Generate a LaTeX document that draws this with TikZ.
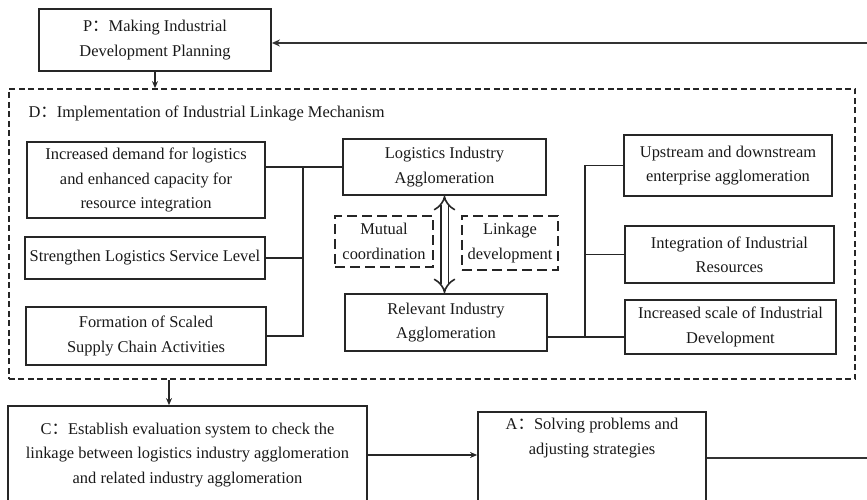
\documentclass[tikz,border=0pt]{standalone}
\usepackage{fontspec}
\setmainfont{Liberation Serif}
\newfontfamily\cjk{Noto Sans CJK SC}
\usetikzlibrary{arrows.meta,positioning}
\newcommand{\fcolon}{{\cjk ：}}

\begin{document}
\begin{tikzpicture}[x=1bp, y=-1bp,
font=\fontsize{16.5}{24.5}\selectfont,
mainbox/.style={draw=black!85, line width=1.8bp, align=center, inner sep=1bp, text=black!90},
dashbox/.style={draw=black!85, line width=1.8bp, dash pattern=on 10bp off 5bp, align=center, inner sep=1bp, text=black!90},
link/.style={draw=black!85, line width=1.4bp},
flow/.style={draw=black!85, line width=1.6bp, -{Stealth[length=7bp,width=6bp]}},
feedback/.style={draw=black!80, line width=2.4bp}
]

    \useasboundingbox (0,0) rectangle (867,500);
    \clip (0,0) rectangle (867,500);

    \node [mainbox, minimum width=232bp, minimum height=62bp] (P) at (155,40) {P\fcolon Making Industrial\\Development Planning};

    \node [draw=black!85, line width=1.7bp, dash pattern=on 6bp off 3.5bp, minimum width=846bp, minimum height=290bp] (frameD) at (432,234) {};
    \node [anchor=west, text=black!90] (titleD) at (25,113) {D\fcolon Implementation of Industrial Linkage Mechanism};

    \node [mainbox, minimum width=238bp, minimum height=76bp] (L1) at (146,180) {Increased demand for logistics\\and enhanced capacity for\\resource integration};
    \node [mainbox, minimum width=240bp, minimum height=42bp] (L2) at (145,258) {Strengthen Logistics Service Level};
    \node [mainbox, minimum width=240bp, minimum height=58bp] (L3) at (146,336) {Formation of Scaled\\Supply Chain Activities};

    \node [mainbox, minimum width=203bp, minimum height=56bp] (LIA) at (444.5,167) {Logistics Industry\\Agglomeration};
    \node [mainbox, minimum width=202bp, minimum height=57bp] (RIA) at (446,322.5) {Relevant Industry\\Agglomeration};

    \node [dashbox, minimum width=98bp, minimum height=51bp] (MC) at (384,241.5) {Mutual\\coordination};
    \node [dashbox, minimum width=96bp, minimum height=54bp] (LD) at (510,243) {Linkage\\development};

    \node [mainbox, minimum width=208bp, minimum height=61bp] (R1) at (728,165.5) {Upstream and downstream\\enterprise agglomeration};
    \node [mainbox, minimum width=209bp, minimum height=57bp] (R2) at (729.5,254.5) {Integration of Industrial\\Resources};
    \node [mainbox, minimum width=211bp, minimum height=54bp] (R3) at (730.5,327) {Increased scale of Industrial\\Development};

    \node [mainbox, minimum width=359bp, minimum height=98bp] (C) at (187.5,455) {C\fcolon Establish evaluation system to check the\\linkage between logistics industry agglomeration\\and related industry agglomeration};
    \node [mainbox, minimum width=228bp, minimum height=100bp, anchor=north] (A) at (592,411) {};
    \node [align=center, text=black!90, below=4bp of A.north] (Atext) {A\fcolon Solving problems and\\adjusting strategies};

    \coordinate (jL) at (303,0);
    \coordinate (jR) at (585,337);
    \coordinate (fbTop) at (867,43);
    \coordinate (fbBot) at (867,458);

    \draw [link] (L1.east |- LIA.west) -- (LIA.west);
    \draw [link] (L2.east) -- (L2.east -| jL);
    \draw [link] (L3.east) -- (L3.east -| jL) -- (LIA.west -| jL);

    \draw [link] (RIA.east |- jR) -- (R3.west |- jR);
    \draw [link] (R2.west) -- (R2.west -| jR);
    \draw [link] (R1.west) -- (R1.west -| jR) -- (jR);

    \draw [draw=black!85, line width=1.6bp, double distance=6bp, {Implies}-{Implies}] (LIA.south) -- (LIA.south |- RIA.north);

    \draw [flow] (P.south) -- (P.south |- frameD.north);
    \draw [flow] (frameD.south -| 169,0) -- (C.north -| 169,0);
    \draw [flow] (C.east) -- (A.west |- C.east);

    \draw [feedback] (A.east |- fbBot) -- (fbBot);
    \draw [feedback, -{Stealth[length=8bp,width=7bp]}] (fbTop) -- (fbTop -| P.east);
    \end{tikzpicture}
\end{document}
